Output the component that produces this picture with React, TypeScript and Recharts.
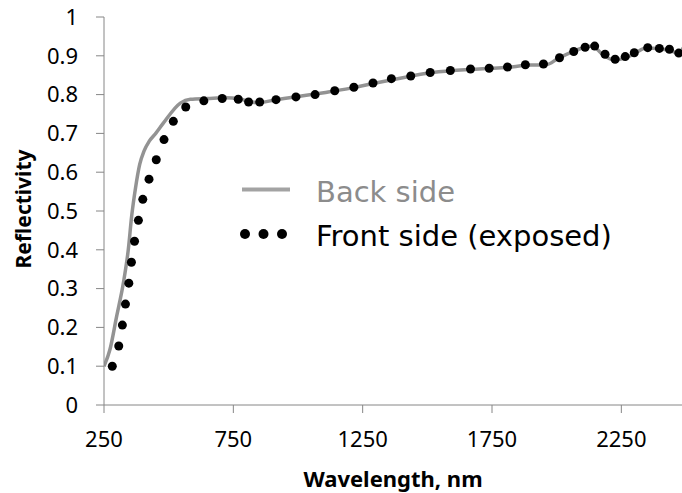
import { LineChart, Line, XAxis, YAxis, Legend } from "recharts"

// Front side (exposed) — measured dots
const frontWl = [
  282, 307, 321, 333, 346, 356, 368, 383, 400, 424, 452, 482, 518, 566, 636, 707, 769, 809, 852, 915,
  992, 1066, 1142, 1216, 1290, 1361, 1436, 1511, 1589, 1667, 1739, 1810, 1879, 1949, 2011, 2066, 2110,
  2147, 2187, 2226, 2265, 2300, 2352, 2397, 2436, 2472, 2500,
]
const frontR = [
  0.1, 0.152, 0.206, 0.26, 0.314, 0.368, 0.422, 0.476, 0.53, 0.582, 0.632, 0.684, 0.731, 0.768, 0.784,
  0.79, 0.788, 0.781, 0.781, 0.787, 0.794, 0.8, 0.81, 0.819, 0.83, 0.841, 0.848, 0.857, 0.862, 0.866,
  0.868, 0.871, 0.877, 0.879, 0.895, 0.911, 0.922, 0.925, 0.904, 0.891, 0.898, 0.908, 0.921, 0.919,
  0.917, 0.907, 0.918,
]

// Back side — continuous curve
const backWl = [
  250, 273, 299, 325, 344, 357, 372, 388, 405, 425, 450, 480, 545, 584, 650, 720, 770, 810, 850, 900,
  1000, 1100, 1200, 1300, 1400, 1500, 1600, 1700, 1800, 1900, 1960, 2005, 2060, 2100, 2138, 2175, 2222,
  2270, 2300, 2345, 2400, 2449, 2475, 2500,
]
const backR = [
  0.1, 0.143, 0.229, 0.315, 0.401, 0.487, 0.56, 0.62, 0.655, 0.68, 0.7, 0.727, 0.778, 0.788, 0.79, 0.792,
  0.79, 0.782, 0.779, 0.785, 0.795, 0.805, 0.816, 0.83, 0.843, 0.855, 0.862, 0.866, 0.87, 0.876, 0.877,
  0.893, 0.91, 0.92, 0.925, 0.905, 0.889, 0.896, 0.905, 0.92, 0.918, 0.911, 0.905, 0.92,
]

const xTicks = [250, 750, 1250, 1750, 2250]
const yTicks = [0, 0.1, 0.2, 0.3, 0.4, 0.5, 0.6, 0.7, 0.8, 0.9, 1]

const frontData = frontWl.map((wl, i) => ({ wl, r: frontR[i] }))
const backData = backWl.map((wl, i) => ({ wl, r: backR[i] }))

const axisColor = "#868686"
const backColor = "#939393"
const tickFont = { fontFamily: "'Noto Sans', sans-serif", fontSize: 22, fill: "#000" }

function LegendBox() {
  return (
    <svg width={420} height={100} style={{ display: "block" }}>
      <line x1={12} y1={29.5} x2={60} y2={29.5} stroke="#a3a3a3" strokeWidth={4} />
      <text x={86} y={41.5} fontFamily="'DejaVu Sans', sans-serif" fontSize={29} fill="#8c8c8c">
        Back side
      </text>
      {[15, 33.5, 52].map((cx) => (
        <circle key={cx} cx={cx} cy={74} r={5} fill="#000" />
      ))}
      <text x={86} y={86} fontFamily="'DejaVu Sans', sans-serif" fontSize={29} fill="#000">
        Front side (exposed)
      </text>
    </svg>
  )
}

export default function App() {
  return (
    <div style={{ position: "absolute", left: 0, top: 0, width: 682, height: 493, overflow: "hidden", background: "#fff" }}>
      <LineChart width={686} height={493} margin={{ top: 17, right: 0, bottom: 0, left: 0 }}>
        <XAxis
          type="number"
          dataKey="wl"
          domain={[250, 2500]}
          ticks={xTicks}
          interval={0}
          allowDataOverflow
          height={88}
          stroke={axisColor}
          tickSize={8}
          tickMargin={18}
          tick={tickFont}
          label={{
            content: () => (
              <text x={393} y={487} textAnchor="middle" fontFamily="'Noto Sans', sans-serif" fontWeight="bold" fontSize={22} fill="#000">
                Wavelength, nm
              </text>
            ),
          }}
        />
        <YAxis
          type="number"
          domain={[0, 1]}
          ticks={yTicks}
          interval={0}
          width={104}
          stroke={axisColor}
          tickSize={8}
          tickMargin={18}
          tick={tickFont}
          label={{
            content: () => (
              <text
                x={31}
                y={209}
                transform="rotate(-90, 31, 209)"
                textAnchor="middle"
                fontFamily="'Noto Sans', sans-serif"
                fontWeight="bold"
                fontSize={21}
                fill="#000"
              >
                Reflectivity
              </text>
            ),
          }}
        />
        <Legend
          layout="vertical"
          align="center"
          verticalAlign="middle"
          wrapperStyle={{ left: 230, top: 160, width: 420, height: 100 }}
          content={() => <LegendBox />}
        />
        <Line
          data={frontData}
          dataKey="r"
          name="Front side (exposed)"
          stroke="none"
          dot={{ r: 4.5, fill: "#000", stroke: "none" }}
          activeDot={false}
          isAnimationActive={false}
        />
        <Line
          data={backData}
          dataKey="r"
          name="Back side"
          type="monotone"
          stroke={backColor}
          strokeWidth={3.5}
          dot={false}
          activeDot={false}
          isAnimationActive={false}
        />
      </LineChart>
    </div>
  )
}
